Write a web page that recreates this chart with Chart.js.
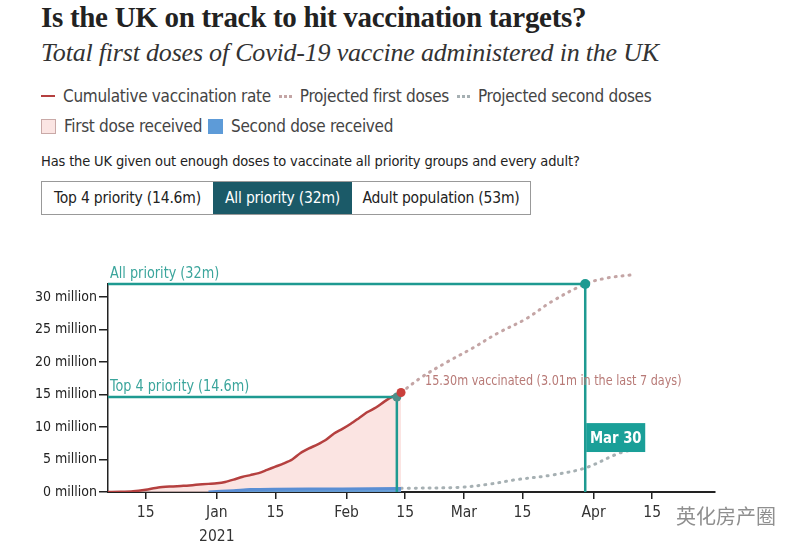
<!DOCTYPE html>
<html>
<head>
<meta charset="utf-8">
<script src="https://cdn.jsdelivr.net/npm/chart.js@4.4.1/dist/chart.umd.min.js"></script>
<style>
  body { margin: 0; background: #fff; width: 800px; height: 549px; position: relative; overflow: hidden; }
  .sans { font-family: "DejaVu Sans Condensed", "Liberation Sans Narrow", "Roboto Condensed", sans-serif; }
  #title { position: absolute; left: 41px; top: 1px; font-family: "Liberation Serif", serif; font-weight: bold; font-size: 29px; color: #222; white-space: nowrap; letter-spacing: -0.3px; }
  #subtitle { position: absolute; left: 41px; top: 38px; font-family: "Liberation Serif", serif; font-style: italic; font-size: 26px; color: #333; white-space: nowrap; letter-spacing: -0.2px; }
  .legendrow { position: absolute; left: 41px; font-size: 17px; color: #444; white-space: nowrap; display: flex; align-items: center; letter-spacing: -0.3px; }
  .sw-line { display: inline-block; width: 14px; height: 0; border-top: 2.5px solid #b5403f; margin-right: 8px; }
  .sw-dots { display: inline-block; width: 13px; height: 0; border-top: 3px dotted #c4a5a5; margin: 0 8px 0 8px; }
  .sw-box { display: inline-block; width: 15px; height: 15px; margin-right: 8px; box-sizing: border-box; }
  #question { position: absolute; left: 41px; top: 153px; font-size: 14.5px; color: #222; white-space: nowrap; letter-spacing: -0.15px; }
  #buttons { position: absolute; left: 41px; top: 181px; height: 34px; display: flex; border: 1px solid #999; box-sizing: border-box; }
  #buttons div { height: 32px; line-height: 32px; font-size: 15.5px; color: #222; text-align: center; letter-spacing: -0.2px; }
  #chartwrap { position: absolute; left: 0; top: 241px; width: 800px; height: 308px; }
  #wm { position: absolute; left: 676px; top: 501px; font-family: "Noto Sans CJK SC", sans-serif; font-size: 20px; color: #8f8f8f; white-space: nowrap; background: rgba(255,255,255,0.75); }
</style>
</head>
<body>
<div id="title">Is the UK on track to hit vaccination targets?</div>
<div id="subtitle">Total first doses of Covid-19 vaccine administered in the UK</div>

<div class="legendrow sans" style="top:86px;">
  <span class="sw-line"></span>Cumulative vaccination rate
  <span class="sw-dots"></span>Projected first doses
  <span class="sw-dots" style="border-top-color:#a6b0b3;"></span>Projected second doses
</div>
<div class="legendrow sans" style="top:116px;">
  <span class="sw-box" style="background:#fbe5e3;border:1px solid #c9a9a7;"></span>First dose received
  <span class="sw-box" style="background:#5d9bd8;margin-left:6px;"></span>Second dose received
</div>

<div id="question" class="sans">Has the UK given out enough doses to vaccinate all priority groups and every adult?</div>
<div id="buttons" class="sans">
  <div style="width:171px;">Top 4 priority (14.6m)</div>
  <div style="width:139px;background:#1b5a68;color:#fff;">All priority (32m)</div>
  <div style="width:178px;">Adult population (53m)</div>
</div>

<div id="chartwrap"><canvas id="myChart" width="800" height="308"></canvas></div>
<div id="wm">英化房产圈</div>

<script>
// days counted from 1 Jan 2021 (negative = December 2020), values in millions

// cumulative first doses received
const firstDays = [-26, -23, -20, -17, -14, -11, -8, -5, -2, 0, 2, 4, 6, 8, 10, 12, 14, 16, 18, 20, 22, 24, 26, 28, 30, 32, 34, 36, 38, 40, 42, 44];
const firstDoses = [0, 0.02, 0.1, 0.35, 0.7, 0.85, 0.95, 1.1, 1.25, 1.35, 1.55, 1.9, 2.3, 2.6, 2.9, 3.4, 3.9, 4.4, 5.0, 6.0, 6.7, 7.3, 8.0, 9.0, 9.7, 10.5, 11.4, 12.3, 13.0, 13.9, 14.7, 15.3];

// second doses received
const secondDays = [-2, 4, 8, 14, 30, 44];
const secondDoses = [0, 0.2, 0.38, 0.44, 0.48, 0.54];

// projections
const projFirstDays = [44, 49, 55, 61, 67, 74, 80, 88, 93, 99];
const projFirstDoses = [15.3, 17.7, 20.0, 22.1, 24.4, 26.7, 29.3, 32.0, 32.9, 33.4];
const projSecondDays = [44, 58, 65, 71, 80, 88, 96, 100];
const projSecondDoses = [0.57, 0.72, 1.2, 1.85, 2.6, 3.7, 5.95, 6.6];

// targets
const targetNames = ['All priority (32m)', 'Top 4 priority (14.6m)'];
const targetValues = [32, 14.6];
const targetDays = [88, 43];   // day the target is reached
const targetDateLabel = 'Mar 30';
const latestNote = '15.30m vaccinated (3.01m in the last 7 days)';

// axes
const xMin = -26, xMax = 119;
const xTickDays = [-17, 0, 14, 31, 45, 59, 73, 90, 104];
const xTickLabels = ['15', ['Jan', '2021'], '15', 'Feb', '15', 'Mar', '15', 'Apr', '15'];
const yTickValues = [0, 5, 10, 15, 20, 25, 30];

const SANS = '"DejaVu Sans Condensed", "Liberation Sans Narrow", "Roboto Condensed", sans-serif';
const TEAL = '#1e9a91';

function pts(xs, ys) { return xs.map((x, i) => ({ x: x, y: ys[i] })); }

// text squeezed a little horizontally, like the narrow house font
function narrowText(ctx, text, x, y, sx) {
  ctx.save();
  ctx.translate(x, y);
  ctx.scale(sx, 1);
  ctx.fillText(text, 0, 0);
  ctx.restore();
}

const annotations = {
  id: 'annotations',
  afterDatasetsDraw(chart) {
    const { ctx, scales: { x, y } } = chart;
    ctx.save();
    // target labels
    ctx.fillStyle = '#3ba59c';
    ctx.font = '15.5px ' + SANS;
    ctx.textBaseline = 'bottom';
    ctx.textAlign = 'left';
    targetNames.forEach((name, i) => {
      narrowText(ctx, name, x.getPixelForValue(xMin) + 2, y.getPixelForValue(targetValues[i]) - 2, 0.92);
    });
    // latest figure note
    const lastX = firstDays[firstDays.length - 1];
    const lastY = firstDoses[firstDoses.length - 1];
    ctx.fillStyle = '#b87a77';
    ctx.font = '14.5px ' + SANS;
    ctx.textBaseline = 'middle';
    narrowText(ctx, latestNote, x.getPixelForValue(lastX) + 24, y.getPixelForValue(lastY) - 11, 0.86);
    // date box
    const bx = x.getPixelForValue(targetDays[0]) + 1;
    const top = y.getPixelForValue(10.6);
    const bottom = y.getPixelForValue(6.15);
    ctx.fillStyle = '#1a9f98';
    ctx.fillRect(bx, top, 59, bottom - top);
    ctx.fillStyle = '#fff';
    ctx.font = 'bold 16px ' + SANS;
    ctx.textAlign = 'center';
    narrowText(ctx, targetDateLabel, bx + 29.5, (top + bottom) / 2 + 1, 0.92);
    ctx.restore();
  }
};

const ctx = document.getElementById('myChart');
const myChart = new Chart(ctx, {
  type: 'line',
  data: {
    datasets: [
      {   // end dot of the cumulative line
        data: pts([firstDays[firstDays.length - 1]], [firstDoses[firstDoses.length - 1]]),
        showLine: false, pointRadius: 4.5, pointBackgroundColor: '#c9403c', pointBorderWidth: 0, order: 0
      },
      {
        data: pts([xMin, targetDays[0], targetDays[0]], [targetValues[0], targetValues[0], 0]),
        borderColor: TEAL, borderWidth: 2.5, pointRadius: [0, 5, 0],
        pointBackgroundColor: TEAL, pointBorderWidth: 0, fill: false, tension: 0, order: 1, clip: false
      },
      {
        data: pts([xMin, targetDays[1], targetDays[1]], [targetValues[1], targetValues[1], 0]),
        borderColor: TEAL, borderWidth: 2.5, pointRadius: [0, 4.5, 0],
        pointBackgroundColor: '#4f8f8a', pointBorderWidth: 0, fill: false, tension: 0, order: 2, clip: false
      },
      {
        label: 'Second dose received',
        data: pts(secondDays, secondDoses),
        borderColor: '#5a8ed4', borderWidth: 3, backgroundColor: 'rgba(93, 155, 216, 0.9)',
        fill: 'origin', pointRadius: 0, tension: 0.3, order: 3
      },
      {
        label: 'Cumulative vaccination rate',
        data: pts(firstDays, firstDoses),
        borderColor: '#b5403f', borderWidth: 2.5, backgroundColor: 'rgba(250, 216, 214, 0.7)',
        fill: 'origin', pointRadius: 0, tension: 0.25, order: 4
      },
      {
        label: 'Projected first doses',
        data: pts(projFirstDays, projFirstDoses),
        borderColor: '#c4a5a5', borderWidth: 3, borderDash: [1, 6], borderCapStyle: 'round',
        pointRadius: 0, tension: 0.35, fill: false, order: 5, clip: false
      },
      {
        label: 'Projected second doses',
        data: pts(projSecondDays, projSecondDoses),
        borderColor: '#a6b0b3', borderWidth: 3, borderDash: [1, 6], borderCapStyle: 'round',
        pointRadius: 0, tension: 0.35, fill: false, order: 6, clip: false
      }
    ]
  },
  options: {
    responsive: false,
    animation: false,
    layout: { padding: { top: 43, right: 85, left: 0, bottom: 0 } },
    plugins: { legend: { display: false }, tooltip: { enabled: false } },
    scales: {
      x: {
        type: 'linear', min: xMin, max: xMax,
        afterBuildTicks: axis => { axis.ticks = xTickDays.map(v => ({ value: v })); },
        afterFit: axis => { axis.height = 57; },
        border: { display: true, color: '#222', width: 2 },
        grid: { drawOnChartArea: false, drawTicks: true, tickLength: 7, color: '#222', lineWidth: 1.5 },
        ticks: {
          autoSkip: false, maxRotation: 0, padding: 2, color: '#333',
          font: { family: SANS, size: 15.5, lineHeight: 1.55 },
          callback: (val, index) => xTickLabels[index]
        }
      },
      y: {
        type: 'linear', min: 0, max: 32,
        afterBuildTicks: axis => { axis.ticks = yTickValues.map(v => ({ value: v })); },
        afterFit: axis => { axis.width = 108; },
        border: { display: true, color: '#222', width: 1.5 },
        grid: { drawOnChartArea: false, drawTicks: true, tickLength: 9, color: '#222', lineWidth: 1.5 },
        ticks: {
          padding: 2, color: '#222',
          font: { family: SANS, size: 14 },
          callback: val => val + ' million'
        }
      }
    }
  },
  plugins: [annotations]
});
</script>
</body>
</html>
